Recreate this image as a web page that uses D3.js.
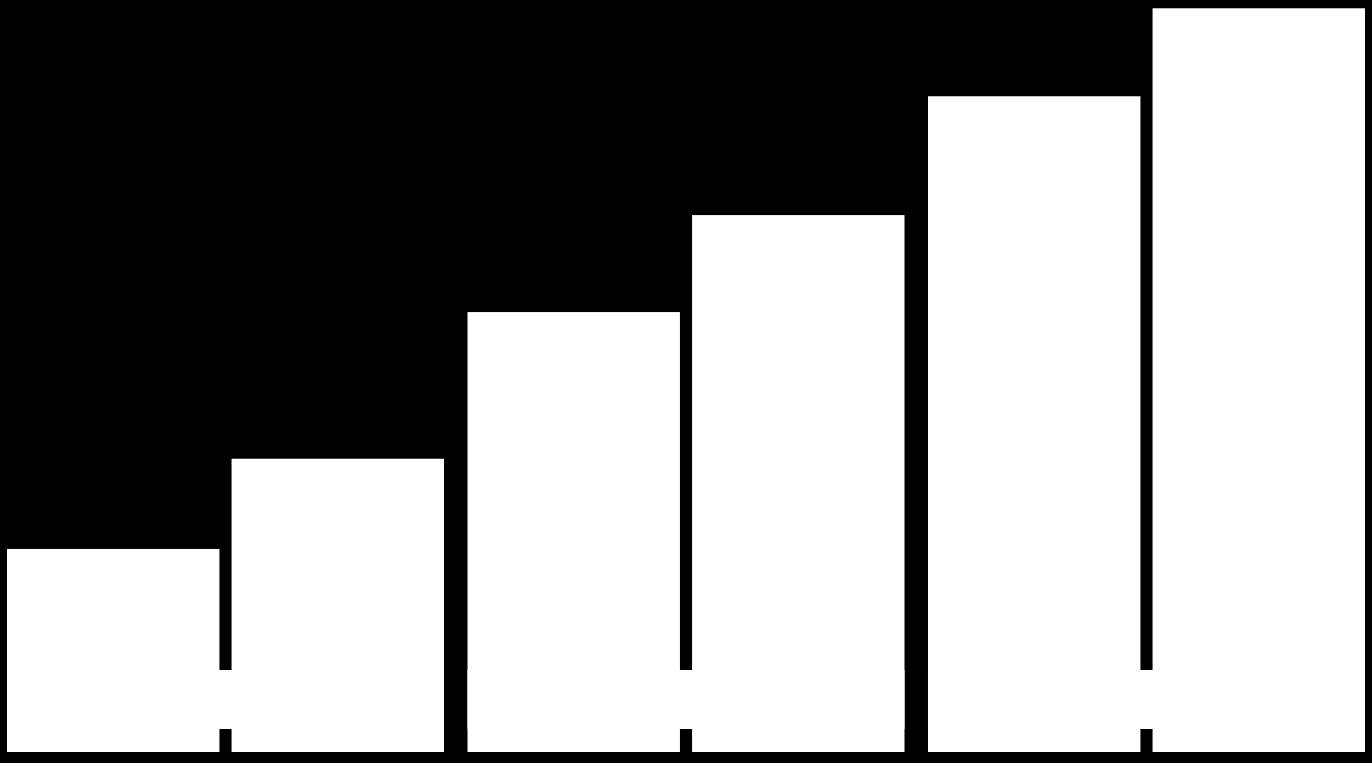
<!DOCTYPE html>
<html>
<head>
<meta charset="utf-8">
<script src="https://cdn.jsdelivr.net/npm/d3@7"></script>
<style>
  html, body { margin: 0; padding: 0; background: #000; overflow: hidden; }
</style>
</head>
<body>
<div id="app"></div>
<script>
// data
const groups = ['A', 'B', 'C'];
const series = ['s1', 's2'];
const valuesS1 = [27.0, 58.5, 87.2];
const valuesS2 = [39.0, 71.4, 98.9];

const width = 1372;
const height = 763;
const baseline = 752;

const rows = groups.map((g, i) => ({ group: g, s1: valuesS1[i], s2: valuesS2[i] }));

const svg = d3
  .select('#app')
  .append('svg')
  .attr('width', width)
  .attr('height', height)
  .style('display', 'block')
  .style('background', '#000');

const x0 = d3.scaleBand().domain(groups).range([7, 1365]).paddingInner(0.051).paddingOuter(0);
const x1 = d3.scaleBand().domain(series).range([0, x0.bandwidth()]).paddingInner(0.054).paddingOuter(0);
const y = d3.scaleLinear().domain([0, 100]).range([baseline, 0]);

const g = svg
  .selectAll('g.group')
  .data(rows)
  .enter()
  .append('g')
  .attr('class', 'group')
  .attr('transform', (d) => 'translate(' + x0(d.group) + ',0)');

// white band joining the two bars of a group
g.append('rect')
  .attr('x', 0)
  .attr('y', 670)
  .attr('width', x0.bandwidth())
  .attr('height', 59)
  .attr('fill', '#fff');

g.selectAll('rect.bar')
  .data((d) => series.map((k) => ({ key: k, value: d[k] })))
  .enter()
  .append('rect')
  .attr('class', 'bar')
  .attr('x', (d) => x1(d.key))
  .attr('y', (d) => y(d.value))
  .attr('width', x1.bandwidth())
  .attr('height', (d) => baseline - y(d.value))
  .attr('fill', '#fff');
</script>
</body>
</html>
